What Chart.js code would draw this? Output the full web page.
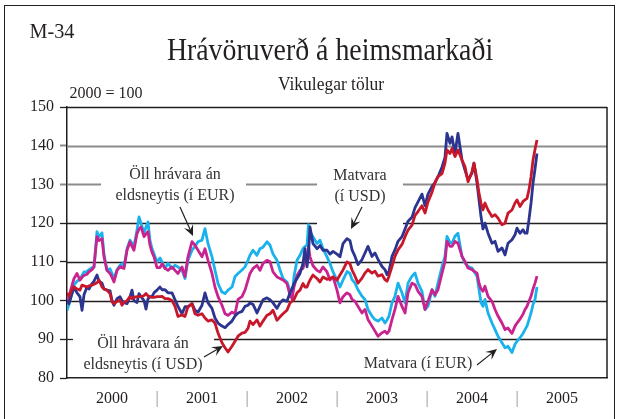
<!DOCTYPE html>
<html>
<head>
<meta charset="utf-8">
<script src="https://cdn.jsdelivr.net/npm/chart.js@4.4.1/dist/chart.umd.min.js"></script>
<style>
  body { margin: 0; background: #fff; }
  #wrap { position: relative; width: 624px; height: 419px; overflow: hidden;
          font-family: "Liberation Serif", "Times New Roman", serif; color: #231f20; }
  #frame { position: absolute; left: 4px; top: 5px; width: 609px; height: 440px; border: 1px solid #231f20; }
  canvas { position: absolute; left: 0; top: 0; }
  .txt { position: absolute; white-space: pre; text-align: center; transform: translate(-50%, -50%); }
  .note { font-size: 16px; line-height: 21px; color: #333; }
  svg { position: absolute; left: 0; top: 0; }
</style>
</head>
<body>
<div id="wrap">
  <div id="frame"></div>
  <canvas id="chart" width="624" height="419"></canvas>
  <div class="txt" style="left:52px; top:31px; font-size:22px; transform:translate(-50%,-50%) scaleX(0.92);">M-34</div>
  <div class="txt" style="left:330px; top:49px; font-size:32px; transform:translate(-50%,-50%) scaleX(0.87);">Hrávöruverð á heimsmarkaði</div>
  <div class="txt" style="left:331px; top:84px; font-size:19px; transform:translate(-50%,-50%) scaleX(0.92);">Vikulegar tölur</div>
  <div class="txt" style="left:106px; top:93px; font-size:16px;">2000 = 100</div>
  <div class="txt note" style="left:175px; top:184px;">Öll hrávara án
eldsneytis (í EUR)</div>
  <div class="txt note" style="left:360px; top:185px;">Matvara
(í USD)</div>
  <div class="txt note" style="left:143px; top:353px;">Öll hrávara án
eldsneytis (í USD)</div>
  <div class="txt note" style="left:418px; top:362px;">Matvara (í EUR)</div>
  <svg id="arrows" width="624" height="419"></svg>
</div>
<script>
// weekly index values, 2000 = 100 (x = decimal year)
const xYears = [
  2000.000, 2000.022, 2000.056, 2000.078, 2000.111, 2000.144, 2000.167, 2000.189, 2000.222, 2000.244,
  2000.278, 2000.300, 2000.333, 2000.356, 2000.389, 2000.411, 2000.444, 2000.478, 2000.500, 2000.522,
  2000.556, 2000.589, 2000.611, 2000.633, 2000.667, 2000.700, 2000.722, 2000.744, 2000.778, 2000.800,
  2000.822, 2000.856, 2000.878, 2000.900, 2000.922, 2000.944, 2000.967, 2001.000, 2001.033, 2001.056,
  2001.089, 2001.122, 2001.167, 2001.200, 2001.233, 2001.278, 2001.311, 2001.344, 2001.389, 2001.422,
  2001.456, 2001.500, 2001.533, 2001.567, 2001.611, 2001.644, 2001.678, 2001.722, 2001.756, 2001.789,
  2001.833, 2001.867, 2001.900, 2001.944, 2001.978, 2002.011, 2002.033, 2002.067, 2002.111, 2002.144,
  2002.178, 2002.222, 2002.256, 2002.289, 2002.333, 2002.367, 2002.400, 2002.444, 2002.478, 2002.500,
  2002.522, 2002.556, 2002.589, 2002.622, 2002.644, 2002.667, 2002.683, 2002.700, 2002.733, 2002.778,
  2002.811, 2002.844, 2002.889, 2002.922, 2002.956, 2003.000, 2003.033, 2003.067, 2003.111, 2003.144,
  2003.167, 2003.200, 2003.233, 2003.278, 2003.311, 2003.344, 2003.389, 2003.422, 2003.456, 2003.500,
  2003.533, 2003.556, 2003.578, 2003.611, 2003.644, 2003.678, 2003.722, 2003.756, 2003.789, 2003.833,
  2003.867, 2003.900, 2003.944, 2003.978, 2004.011, 2004.056, 2004.089, 2004.122, 2004.167, 2004.200,
  2004.222, 2004.256, 2004.278, 2004.311, 2004.344, 2004.389, 2004.422, 2004.456, 2004.500, 2004.522,
  2004.556, 2004.578, 2004.600, 2004.622, 2004.644, 2004.678, 2004.722, 2004.756, 2004.789, 2004.833,
  2004.867, 2004.900, 2004.944, 2004.978, 2005.000, 2005.033, 2005.067, 2005.089, 2005.111, 2005.133,
  2005.156, 2005.178, 2005.200, 2005.222
];

// Matvara (í USD)
const matvaraUSD = [
  100, 99.2, 101.8, 103.5, 102, 101, 97.5, 101.5, 103.5, 103,
  104.4, 105, 106.6, 105, 104.5, 103, 102.7, 102.5, 100.1, 98.8,
  100.5, 101, 100, 99.5, 99.2, 101, 102.7, 100, 99.5, 101.8,
  101, 100, 97.8, 100.5, 101, 101, 102, 102.7, 103.5, 102.8,
  102.8, 102, 102, 100.2, 98.5, 96.6, 98.4, 98.4, 99.2, 97.5,
  97, 98.8, 102, 99.4, 98, 95.5, 94.2, 93.4, 93, 93.8,
  94.7, 96, 96.8, 97.2, 98.5, 98.8, 99.4, 99, 96.8, 98.5,
  100.2, 100.7, 100.2, 99.4, 98, 99.4, 100.2, 99.8, 102, 103,
  104.4, 105.7, 107, 109.6, 113.4, 108.7, 112, 119, 114.7, 113.4,
  114.2, 113, 113, 112, 112.7, 112, 111.3, 114.7, 116, 115.5,
  113.1, 111.4, 109.3, 110.6, 112.3, 114, 111.4, 112.3, 110.6, 108.8,
  108, 106.7, 107.6, 111.4, 113.1, 115.3, 116.5, 118.5, 120.5, 121.5,
  124, 125.5, 127.5, 124.5, 127.5, 129.5, 130.5, 132, 134.5, 137,
  143.2, 140.6, 142.3, 138, 143.2, 136.3, 133.7, 131.2, 132.9, 135.5,
  130.3, 126, 121.7, 118.5, 120, 117.4, 114.8, 115.3, 112.7, 113.6,
  111.8, 114.8, 115.7, 117, 118.7, 117.4, 118.3, 117.4, 117.4, 120.9,
  125.2, 130.3, 134, 138
];

// Öll hrávara án eldsneytis (í USD)
const hravaraUSD = [
  102, 101.1, 103, 103.5, 103, 102.7, 104, 103.8, 103.5, 103.8,
  104, 104.2, 104.6, 105.3, 103.5, 103, 102.7, 101.8, 99.7, 99.2,
  99.8, 100.1, 98.8, 99.5, 100, 101, 100.5, 100.8, 101, 101,
  101, 101.3, 101.8, 101.2, 101, 100.8, 100.8, 101, 101, 101.1,
  100.5, 100.5, 100, 98.5, 95.9, 96.3, 95.9, 98.4, 99.2, 96.6,
  96.2, 96.6, 95.5, 94.7, 95, 94.2, 91.6, 89.1, 87.8, 86.7,
  88.2, 89.5, 90.8, 91.6, 91.8, 92.8, 94.7, 93.8, 95, 93.4,
  94.7, 96.2, 96.6, 97.5, 94.9, 95.8, 96.6, 97.5, 99.4, 99.8,
  100.3, 102, 102.7, 104.4, 103.5, 103.5, 104.5, 105.3, 106.6, 105.7,
  104.8, 106.1, 105.5, 105.7, 106.1, 105.3, 106.6, 107.9, 110, 109.5,
  107.9, 106.3, 104.5, 105.8, 107.1, 108, 107.1, 107.6, 106.3, 106.7,
  105.4, 105, 106.3, 108.8, 111.4, 113.1, 114.5, 116.5, 118.2, 119.5,
  122, 123, 124.5, 122.6, 125.5, 128, 130.5, 132, 132.8, 135.5,
  138.9, 138, 139.3, 137.2, 138.9, 136.3, 134.6, 130.7, 133.3, 135.5,
  131.2, 127.7, 125.2, 123.4, 125.2, 123.4, 121.7, 122.2, 121.3, 119.6,
  120, 122.6, 123.4, 125.2, 126, 124.3, 125.6, 126, 126.4, 128.6,
  132, 136.3, 139, 141.5
];

// Öll hrávara án eldsneytis (í EUR)
const hravaraEUR = [
  99.5, 101, 104, 105.7, 107, 105.3, 106, 106.5, 106.8, 107.4,
  108, 108.7, 116.5, 115.5, 116, 111.3, 107.8, 107, 106, 104.8,
  107.8, 108.7, 108.5, 108.3, 113, 115.2, 114, 113, 117.3, 118.5,
  119, 116.5, 117.2, 117.8, 114.3, 112.5, 111.3, 108.5, 108.5, 109.5,
  108.3, 107.8, 108.7, 107.8, 107, 108.7, 106.2, 111.3, 115.2, 114.3,
  113, 111.3, 113.4, 110.4, 107, 103.5, 101, 98.8, 96.6, 96.2,
  97, 96.6, 100.3, 101, 102.7, 105.3, 107, 108.3, 109.1, 107.8,
  109.6, 110.4, 110, 107.4, 106.1, 105.7, 105.3, 104.4, 101.4, 100.5,
  103.5, 106.5, 107.8, 108.3, 110, 110.4, 114, 111.3, 109, 107.8,
  107.4, 108.7, 107.4, 105.3, 106.1, 102.7, 99.4, 101, 102, 101.5,
  100.3, 99.8, 98.5, 96.8, 97.7, 95.1, 93.4, 92.1, 90.8, 91.7,
  92.1, 91.5, 92.1, 95.1, 97.7, 101.1, 98.5, 96.8, 102, 104.5,
  104.1, 102.4, 101.1, 97.7, 99.8, 102.8, 101.5, 102.8, 107.1, 110.1,
  115.3, 114, 114, 115.3, 114.8, 111.4, 110.1, 108.4, 108, 107.6,
  107.1, 104.5, 103, 102.4, 103.7, 101.1, 99.8, 97.7, 96, 94.2,
  92.5, 92.9, 91.5, 93.4, 94.2, 95.2, 96.5, 97.7, 98.5, 99.8,
  101.1, 103, 104.5, 106.3
];

// Matvara (í EUR)
const matvaraEUR = [
  97.4, 99, 102, 104, 105, 105.5, 106.5, 107.4, 107.5, 108,
  108.5, 108.7, 117.8, 116.5, 117.5, 112, 107.8, 108.2, 107, 105.7,
  108, 109.1, 109.5, 108.7, 113.4, 115.6, 114.8, 114, 118.2, 121.6,
  120, 117.5, 119, 120.3, 115.5, 113.5, 112, 110, 111, 110,
  108.3, 109.6, 108.3, 109.1, 108.7, 107.8, 105.7, 110.4, 113, 114,
  115.2, 115.6, 118.6, 114.7, 111.3, 107.9, 104.4, 102.2, 101.8, 102.7,
  103.5, 106.2, 107, 107.9, 108.7, 110.4, 111.7, 113, 111.7, 113.4,
  113.8, 115.2, 114.3, 112, 110.4, 107.9, 105.7, 104.8, 102.7, 101,
  106.2, 110.4, 111.7, 113.4, 114, 114.3, 119.6, 117.8, 116.5, 114.7,
  115.6, 113.4, 111.3, 109.6, 107.4, 105.3, 103.5, 105.3, 107.5, 107,
  105.4, 104.5, 102.8, 101.1, 100.3, 97.7, 96, 95.1, 94.7, 95.5,
  94.2, 95, 96, 99.4, 101.1, 104.5, 102, 99.4, 104.5, 106.3,
  107.1, 104.5, 102.4, 97.7, 98.5, 102.8, 101.1, 104.5, 108.8, 111.4,
  116.6, 115, 114.8, 116.6, 117.4, 111.4, 109.7, 108.8, 108.4, 107.5,
  106.3, 102.8, 99.5, 98.5, 100.3, 96.8, 94.2, 92.5, 90.8, 89.1,
  87.8, 88.2, 86.6, 88.7, 89.5, 90.4, 91.5, 92.5, 93.4, 95,
  96.8, 99, 100.3, 103.5
];

const yTicks = [80, 90, 100, 110, 120, 130, 140, 150];

// horizontal rules, broken where the notes sit (x in decimal years)
const rules = [
  { v: 150, color: '#231f20', w: 1.5, segs: [[2000, 2006]] },
  { v: 140, color: '#8c8c8c', w: 2, segs: [[2000, 2006]] },
  { v: 130, color: '#8c8c8c', w: 2, segs: [[2000, 2000.378], [2001.989, 2002.778], [2003.733, 2006]] },
  { v: 120, color: '#231f20', w: 1.3, segs: [[2000, 2002.778], [2003.733, 2006]] },
  { v: 110, color: '#231f20', w: 1.3, segs: [[2000, 2006]] },
  { v: 100, color: '#231f20', w: 1.3, segs: [[2000, 2006]] },
  { v: 90, color: '#231f20', w: 1.3, segs: [[2000, 2000.067], [2001.633, 2006]] }
];

function pts(values) {
  return values.map((v, i) => ({ x: xYears[i], y: v }));
}

const rulesPlugin = {
  id: 'rules',
  beforeDatasetsDraw(chart) {
    const { ctx, scales: { x, y }, chartArea } = chart;
    ctx.save();
    rules.forEach(r => {
      const py = Math.round(y.getPixelForValue(r.v)) + 0.5;
      ctx.strokeStyle = r.color;
      ctx.lineWidth = r.w;
      r.segs.forEach(s => {
        ctx.beginPath();
        ctx.moveTo(x.getPixelForValue(s[0]), py);
        ctx.lineTo(x.getPixelForValue(s[1]), py);
        ctx.stroke();
      });
    });
    // right edge of the plot box
    ctx.strokeStyle = '#231f20';
    ctx.lineWidth = 1.5;
    ctx.beginPath();
    ctx.moveTo(chartArea.right, chartArea.top);
    ctx.lineTo(chartArea.right, chartArea.bottom);
    ctx.stroke();
    ctx.restore();
  }
};

function line(label, values, color, order) {
  return {
    label: label,
    data: pts(values),
    borderColor: color,
    borderWidth: 2.8,
    pointRadius: 0,
    tension: 0,
    borderJoinStyle: 'round',
    order: order
  };
}

new Chart(document.getElementById('chart'), {
  type: 'line',
  data: {
    datasets: [
      line('Matvara (í EUR)', matvaraEUR, '#19b2ec', 4),
      line('Öll hrávara án eldsneytis (í EUR)', hravaraEUR, '#c9238f', 3),
      line('Matvara (í USD)', matvaraUSD, '#2b3590', 2),
      line('Öll hrávara án eldsneytis (í USD)', hravaraUSD, '#c8172b', 1)
    ]
  },
  options: {
    responsive: false,
    animation: false,
    events: [],
    layout: { padding: { left: 0, top: 107, right: 17, bottom: 0 } },
    plugins: { legend: { display: false }, tooltip: { enabled: false } },
    scales: {
      x: {
        type: 'linear',
        min: 2000,
        max: 2006,
        afterFit: s => { s.height = 41; },
        grid: { display: false, drawTicks: false },
        border: { display: true, color: '#231f20', width: 1.5 },
        ticks: {
          stepSize: 0.5,
          autoSkip: false,
          maxRotation: 0,
          padding: 11,
          font: { family: 'Liberation Serif', size: 16 },
          color: c => (c.tick && c.tick.value % 1 === 0) ? '#8c8c8c' : '#231f20',
          callback: v => {
            if (v % 1 === 0.5) return String(Math.floor(v));
            if (v > 2000 && v < 2006) return '|';
            return '';
          }
        }
      },
      y: {
        min: 80,
        max: 150,
        afterFit: s => { s.width = 67; },
        afterBuildTicks: s => { s.ticks = yTicks.map(v => ({ value: v })); },
        grid: {
          drawOnChartArea: false,
          drawTicks: true,
          tickLength: 7,
          tickWidth: c => (c.tick && (c.tick.value === 130 || c.tick.value === 140)) ? 2 : 1.3,
          tickColor: c => (c.tick && (c.tick.value === 130 || c.tick.value === 140)) ? '#8c8c8c' : '#231f20'
        },
        border: { display: true, color: '#231f20', width: 1.5 },
        ticks: {
          padding: 6,
          font: { family: 'Liberation Serif', size: 16 },
          color: '#231f20'
        }
      }
    }
  },
  plugins: [rulesPlugin]
});

// pointer arrows for the notes
const arrows = [
  [180, 207, 193, 236],
  [362, 207, 351, 229],
  [204, 357, 223, 346],
  [477, 365, 497, 349]
];
const svg = document.getElementById('arrows');
arrows.forEach(a => {
  const [x1, y1, x2, y2] = a;
  const ang = Math.atan2(y2 - y1, x2 - x1);
  const len = 11, half = 5;
  const bx = x2 - len * Math.cos(ang), by = y2 - len * Math.sin(ang);
  const nx = x2 - 0.6 * len * Math.cos(ang), ny = y2 - 0.6 * len * Math.sin(ang);
  const px = -Math.sin(ang) * half, py = Math.cos(ang) * half;
  const l = document.createElementNS('http://www.w3.org/2000/svg', 'line');
  l.setAttribute('x1', x1); l.setAttribute('y1', y1);
  l.setAttribute('x2', nx); l.setAttribute('y2', ny);
  l.setAttribute('stroke', '#231f20'); l.setAttribute('stroke-width', '1.2');
  svg.appendChild(l);
  const p = document.createElementNS('http://www.w3.org/2000/svg', 'polygon');
  p.setAttribute('points', [x2, y2, bx + px, by + py, nx, ny, bx - px, by - py].join(' '));
  p.setAttribute('fill', '#231f20');
  svg.appendChild(p);
});
</script>
</body>
</html>
